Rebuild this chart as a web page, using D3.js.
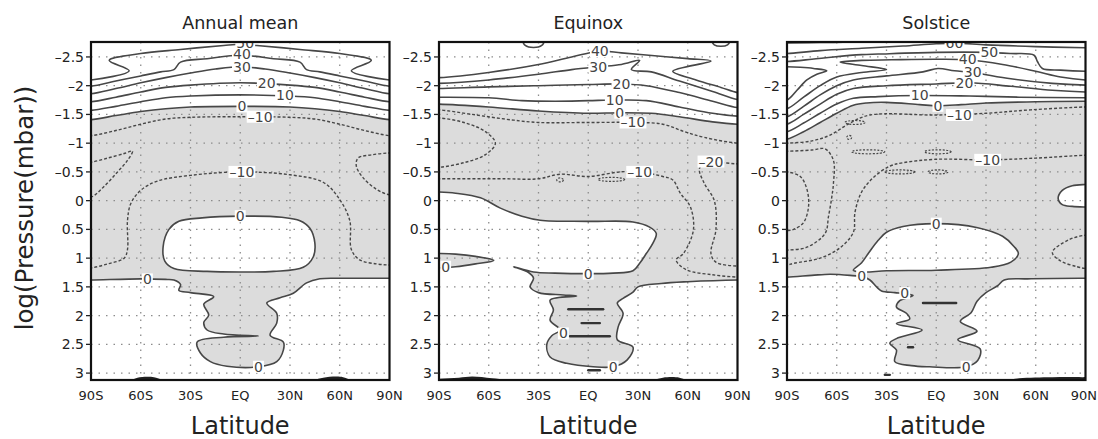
<!DOCTYPE html>
<html><head><meta charset="utf-8">
<script src="https://cdn.jsdelivr.net/npm/d3@7"></script>
<style>body{margin:0;background:#fff}svg{display:block}</style>
</head><body><svg id="c" width="1098" height="439"></svg>
<script>
// ---------- axes / categories ----------
const panelTitles = ["Annual mean", "Equinox", "Solstice"];
const xTickValues = [-90, -60, -30, 0, 30, 60, 90];
const xTickLabels = ["90S", "60S", "30S", "EQ", "30N", "60N", "90N"];
const yTickValues = [-2.5, -2, -1.5, -1, -0.5, 0, 0.5, 1, 1.5, 2, 2.5, 3];
const yTickLabels = ["–2.5", "–2", "–1.5", "–1", "–0.5", "0", "0.5", "1", "1.5", "2", "2.5", "3"];
const xAxisTitle = "Latitude";
const yAxisTitle = "log(Pressure(mbar))";

// ---------- Panel 1: Annual mean  (contours as [lat, logP]) ----------
const p1_c50 = [[-90,-2.1],[-67,-2.26],[-79,-2.44],[-60,-2.56],[-36,-2.63],[-10,-2.7],[0,-2.72],[10,-2.7],[36,-2.63],[60,-2.56],[79,-2.44],[67,-2.26],[90,-2.1]];
const p1_c40 = [[-90,-1.99],[-75,-2.08],[-60,-2.17],[-48,-2.24],[-40,-2.28],[-36,-2.41],[-20,-2.47],[0,-2.53],[20,-2.47],[36,-2.41],[40,-2.28],[48,-2.24],[60,-2.17],[75,-2.08],[90,-1.99]];
const p1_c30 = [[-90,-1.86],[-75,-1.95],[-60,-2.05],[-45,-2.14],[-30,-2.22],[-15,-2.29],[0,-2.33],[15,-2.29],[30,-2.22],[45,-2.14],[60,-2.05],[75,-1.95],[90,-1.86]];
const p1_c20 = [[-90,-1.72],[-75,-1.8],[-60,-1.89],[-45,-1.97],[-30,-2.01],[0,-2.05],[30,-2.01],[45,-1.97],[60,-1.89],[75,-1.8],[90,-1.72]];
const p1_c10 = [[-90,-1.57],[-75,-1.64],[-60,-1.72],[-45,-1.79],[-30,-1.82],[0,-1.84],[30,-1.82],[45,-1.79],[60,-1.72],[75,-1.64],[90,-1.57]];
const p1_c0u = [[-90,-1.41],[-75,-1.48],[-60,-1.55],[-45,-1.6],[-30,-1.63],[0,-1.64],[30,-1.63],[45,-1.6],[60,-1.55],[75,-1.48],[90,-1.41]];
const p1_m10u = [[-90,-1.13],[-75,-1.22],[-60,-1.33],[-45,-1.42],[-30,-1.45],[0,-1.46],[30,-1.45],[45,-1.42],[60,-1.33],[75,-1.22],[90,-1.13]];
const p1_tongueL = [[-90,-0.67],[-80,-0.74],[-70,-0.82],[-65,-0.86],[-68,-0.7],[-74,-0.5],[-82,-0.25],[-90,-0.06]];
const p1_tongueR = [[90,-0.83],[80,-0.8],[71,-0.74],[70,-0.6],[74,-0.4],[82,-0.2],[90,-0.1]];
const p1_m10l = [[-90,1.17],[-80,1.1],[-70,1.0],[-68,0.85],[-68,0.35],[-66,0.05],[-60,-0.18],[-50,-0.34],[-30,-0.44],[0,-0.5],[30,-0.45],[50,-0.32],[59,-0.06],[66,0.34],[67,0.85],[72,1.03],[82,1.1],[90,1.12]];
const p1_bubble = [[-46.5,0.8],[-43,0.5],[-37,0.36],[-23,0.3],[0,0.27],[25,0.29],[36,0.35],[42,0.48],[45,0.74],[44,0.98],[38,1.16],[20,1.23],[0,1.24],[-20,1.23],[-40,1.18],[-45.5,1.05]];
const p1_c0l = [[-90,1.38],[-60,1.36],[-45,1.37],[-40,1.38],[-36,1.46],[-37,1.56],[-30,1.6],[-16,1.67],[-22,1.8],[-19,1.99],[-22,2.12],[-20,2.25],[-10,2.32],[11,2.355],[-10,2.375],[-26,2.46],[-24,2.65],[-18,2.8],[-8,2.88],[11,2.89],[22,2.8],[26,2.6],[26,2.46],[18,2.34],[22,2.13],[22,1.96],[16,1.78],[24,1.69],[32,1.61],[40,1.43],[48,1.36],[60,1.35],[90,1.35]];
const p1_blobs = [[[-66,3.14],[-62,3.08],[-52,3.07],[-46,3.14]], [[43,3.14],[50,3.08],[62,3.07],[67,3.14]]];
const p1_labels = [[3,-2.75,"50"],[1,-2.55,"40"],[1,-2.33,"30"],[16,-2.05,"20"],[27,-1.83,"10"],[1,-1.64,"0"],[12,-1.46,"–10"],[1,-0.5,"–10"],[0,0.27,"0"],[-56,1.37,"0"],[11,2.89,"0"]];

// ---------- Panel 2: Equinox ----------
const p2_c40 = [[-90,-2.14],[-60,-2.23],[-30,-2.37],[-10,-2.5],[7,-2.6],[20,-2.57],[40,-2.52],[60,-2.47],[74,-2.43],[51,-2.25],[65,-2.1],[80,-1.97],[90,-1.88]];
const p2_c30 = [[-90,-2.04],[-60,-2.1],[-30,-2.2],[-10,-2.28],[6,-2.33],[20,-2.37],[31,-2.44],[26,-2.28],[38,-2.24],[55,-2.08],[75,-1.9],[90,-1.76]];
const p2_c20 = [[-90,-1.95],[-60,-1.98],[-30,-2.0],[0,-2.02],[20,-2.03],[35,-2.0],[55,-1.88],[75,-1.73],[90,-1.62]];
const p2_c10 = [[-90,-1.8],[-60,-1.79],[-40,-1.74],[-20,-1.73],[0,-1.74],[16,-1.75],[35,-1.74],[55,-1.63],[75,-1.52],[90,-1.47]];
const p2_c0u = [[-90,-1.68],[-60,-1.63],[-30,-1.56],[0,-1.52],[19,-1.53],[38,-1.52],[55,-1.46],[75,-1.37],[90,-1.33]];
const p2_topA = [[-40,-2.8],[-38,-2.7],[-33,-2.665],[-28,-2.7],[-26,-2.8]];
const p2_topB = [[74,-2.8],[76,-2.71],[80,-2.685],[84,-2.71],[86,-2.8]];
const p2_m10u = [[-90,-1.58],[-70,-1.5],[-45,-1.4],[-30,-1.36],[0,-1.36],[27,-1.36],[45,-1.33],[58,-1.2],[70,-1.1],[90,-1.0]];
const p2_tongueM = [[-90,-1.44],[-75,-1.36],[-62,-1.2],[-56,-1.0],[-62,-0.8],[-75,-0.66],[-90,-0.58]];
const p2_m10l = [[-90,-0.38],[-50,-0.38],[-30,-0.38],[-17,-0.46],[0,-0.42],[19,-0.5],[31,-0.5],[45,-0.42],[51,-0.36],[55.5,-0.13],[61.6,0.11],[63.4,0.51],[57.4,0.92],[53,1.03],[59,1.2],[75,1.29],[90,1.33]];
const p2_m20 = [[90,-0.64],[80,-0.66],[70,-0.66],[67,-0.55],[70,-0.3],[76,0.0],[77,0.5],[74,0.92],[77,1.07],[90,1.14]];
const p2_c0m = [[-90,-0.15],[-80,-0.13],[-65,-0.05],[-53,0.13],[-40,0.27],[-29,0.34],[0,0.36],[27,0.37],[37,0.46],[41,0.57],[39,0.74],[35,0.92],[31,1.09],[27,1.22],[15,1.26],[0,1.27],[-20,1.26],[-33,1.24],[-45,1.15],[-36,1.25],[-33,1.35],[-35,1.5],[-30,1.6],[-15,1.64],[-7,1.66],[-23,1.73],[-21,1.9],[-23,2.08],[-17,2.25],[-22,2.35],[-25,2.5],[-23,2.72],[-13,2.83],[3,2.89],[15,2.89],[23.5,2.77],[27,2.55],[17.5,2.42],[18,2.2],[21,1.96],[17.5,1.78],[21,1.7],[27,1.59],[30,1.5],[44,1.44],[60,1.41],[90,1.38]];
const p2_tongue0 = [[-90,0.92],[-80,0.93],[-68,0.97],[-57,1.04],[-68,1.1],[-80,1.15],[-90,1.17]];
const p2_slivers = [[-12,9,1.89],[-4,7,2.13],[-11,13,2.36],[0,7,2.95]];
const p2_squiggles = [[-19,-15,-0.36],[6,22,-0.37]];
const p2_blobs = [[[-97,3.14],[-90,3.1],[-78,3.08],[-70,3.06],[-58,3.09],[-45,3.14]], [[38,3.14],[45,3.08],[55,3.08],[60,3.14]]];
const p2_labels = [[7,-2.6,"40"],[6,-2.33,"30"],[20,-2.03,"20"],[16,-1.75,"10"],[19,-1.53,"0"],[27,-1.36,"–10"],[31,-0.5,"–10"],[74,-0.68,"–20"],[0,1.27,"0"],[-86,1.15,"0"],[-15,2.31,"0"],[15,2.89,"0"]];

// ---------- Panel 3: Solstice ----------
const p3_top = [[-90,-2.745],[-70,-2.75],[-50,-2.76]];
const p3_c60 = [[-90,-2.56],[-70,-2.61],[-45,-2.65],[-20,-2.69],[0,-2.73],[12,-2.74],[30,-2.71],[60,-2.68],[90,-2.66]];
const p3_c50 = [[-90,-2.42],[-75,-2.46],[-62,-2.5],[-45,-2.54],[-35,-2.55],[0,-2.58],[30,-2.58],[45,-2.56],[59,-2.53],[61,-2.42],[64,-2.3],[75,-2.27],[90,-2.25]];
const p3_cL = [[-90,-1.75],[-84,-1.92],[-78,-2.1],[-72,-2.2],[-66,-2.26],[-74,-2.3],[-82,-2.32],[-90,-2.33]];
const p3_c40 = [[-90,-1.6],[-80,-1.8],[-70,-2.0],[-60,-2.15],[-45,-2.23],[-30,-2.28],[-45,-2.35],[-58,-2.41],[-45,-2.44],[-27,-2.45],[0,-2.46],[19,-2.45],[40,-2.37],[60,-2.25],[75,-2.15],[90,-2.1]];
const p3_c30 = [[-90,-1.46],[-80,-1.64],[-70,-1.84],[-60,-2.0],[-50,-2.1],[-30,-2.17],[-8,-2.24],[1,-2.3],[11,-2.26],[22,-2.23],[45,-2.12],[70,-2.04],[90,-2.01]];
const p3_c20 = [[-90,-1.33],[-80,-1.5],[-70,-1.68],[-60,-1.85],[-50,-1.95],[-30,-2.0],[0,-2.03],[20,-2.05],[45,-1.99],[70,-1.92],[90,-1.89]];
const p3_c10 = [[-90,-1.2],[-80,-1.35],[-70,-1.52],[-60,-1.68],[-50,-1.78],[-35,-1.81],[-10,-1.83],[20,-1.82],[50,-1.8],[90,-1.79]];
const p3_c0u = [[-90,-1.07],[-80,-1.2],[-70,-1.36],[-60,-1.52],[-50,-1.66],[-42,-1.7],[-30,-1.71],[-10,-1.67],[1,-1.65],[15,-1.67],[30,-1.7],[60,-1.72],[90,-1.73]];
const p3_m10u = [[-90,-1.0],[-75,-1.04],[-64,-1.14],[-52,-1.35],[-40,-1.49],[0,-1.49],[30,-1.52],[57,-1.58],[90,-1.63]];
const p3_m10v = [[-90,-0.86],[-75,-0.88],[-67,-0.9],[-62,-0.7],[-62,-0.3],[-63,-0.06],[-65,0.28],[-67,0.57],[-78,0.81],[-90,0.86]];
const p3_m20 = [[-90,-0.5],[-82,-0.42],[-78,-0.2],[-77,0.1],[-80,0.38],[-86,0.5],[-90,0.52]];
const p3_m10b = [[90,-0.79],[60,-0.74],[31,-0.71],[0,-0.72],[-20,-0.66],[-28,-0.6],[-38,-0.4],[-45,-0.15],[-49,0.2],[-50,0.55],[-58,0.82],[-70,1.0],[-86,1.09],[-90,1.12]];
const p3_m10r = [[90,0.6],[80,0.68],[70,0.9],[75,1.05],[85,1.15],[90,1.18]];
const p3_bubble = [[-50,1.21],[-45,1.08],[-41,0.92],[-35,0.69],[-30,0.55],[-20,0.45],[0,0.4],[25,0.47],[40,0.62],[47,0.8],[49.5,0.92],[45,1.07],[33,1.16],[0,1.21],[-30,1.22],[-44,1.24]];
const p3_bubbleR = [[97,-0.28],[90,-0.28],[82,-0.26],[76,-0.18],[73.5,-0.04],[76,0.07],[82,0.1],[90,0.11],[97,0.11]];
const p3_c0l = [[-90,1.33],[-75,1.3],[-64,1.28],[-52,1.3],[-44,1.33],[-40,1.38],[-36,1.5],[-33,1.57],[-25,1.6],[-19,1.62],[-14,1.65],[-22,1.74],[-24,1.85],[-18,1.96],[-16,2.06],[-24,2.14],[-8.5,2.25],[-24,2.4],[-28,2.48],[-24,2.6],[-25,2.8],[-15,2.87],[-4,2.89],[18,2.89],[25,2.78],[26.5,2.58],[13,2.42],[24.6,2.27],[14.5,2.1],[21,1.95],[24.6,1.75],[30,1.6],[37,1.48],[41,1.38],[55,1.36],[90,1.35]];
const p3_slivers = [[-8,12,1.78],[-17,-14,2.55],[-31,-28,3.03]];
const p3_squiggles = [[-51,-31,-0.85],[-7,9,-0.85],[-31,-13,-0.5],[-5,7,-0.5],[-55,-43,-1.36],[-54,-51,-1.1]];
const p3_blobs = [[[40,3.14],[50,3.09],[70,3.07],[88,3.07],[97,3.08],[97,3.14]]];
const p3_labels = [[11,-2.75,"60"],[32,-2.58,"50"],[19,-2.46,"40"],[17,-2.04,"20"],[22,-2.24,"30"],[-10,-1.83,"10"],[1,-1.65,"0"],[14,-1.49,"–10"],[31,-0.71,"–10"],[0,0.4,"0"],[-45,1.31,"0"],[-19,1.61,"0"],[18,2.89,"0"]];

// ---------- layout ----------
const panelLeft = [91, 439, 787];
const panelW = 298.5, frameTop = 42, frameBottom = 380;
const yDomain = [-2.76, 3.12];
const FONT = "DejaVu Sans";
const GRAY = "#dcdcdc", LINE = "#474747";
const SVG_W = 1098;

const ext = pts => {
  const e = p => Math.abs(p[0]) === 90 ? [[p[0] > 0 ? 97 : -97, p[1]]] : [];
  return [...e(pts[0]), ...pts, ...e(pts[pts.length - 1])];
};
const band = (upper, lower) => ext(upper).concat(ext(lower).reverse());

const panels = [
  { grayFills: [band(p1_c0u, p1_c0l)], whiteFills: [p1_bubble],
    solid: [p1_c50, p1_c40, p1_c30, p1_c20, p1_c10, p1_c0u, p1_c0l], solidClosed: [p1_bubble],
    dashed: [p1_m10u, p1_tongueL, p1_tongueR, p1_m10l], blobs: p1_blobs, slivers: [], squiggles: [], labels: p1_labels },
  { grayFills: [band(p2_c0u, p2_c0m), ext(p2_tongue0)], whiteFills: [],
    solid: [p2_topA, p2_topB, p2_c40, p2_c30, p2_c20, p2_c10, p2_c0u, p2_c0m, p2_tongue0], solidClosed: [],
    dashed: [p2_m10u, p2_tongueM, p2_m10l, p2_m20], blobs: p2_blobs, slivers: p2_slivers, squiggles: p2_squiggles, labels: p2_labels },
  { grayFills: [band(p3_c0u, p3_c0l)], whiteFills: [p3_bubble, p3_bubbleR],
    solid: [p3_top, p3_c60, p3_c50, p3_cL, p3_c40, p3_c30, p3_c20, p3_c10, p3_c0u, p3_c0l, p3_bubbleR], solidClosed: [p3_bubble],
    dashed: [p3_m10u, p3_m10v, p3_m20, p3_m10b, p3_m10r], blobs: p3_blobs, slivers: p3_slivers, squiggles: p3_squiggles, labels: p3_labels }
];

const svg = d3.select("#c");
const y = d3.scaleLinear().domain(yDomain).range([frameTop, frameBottom]);

panels.forEach((P, i) => {
  const x0 = panelLeft[i];
  const x = d3.scaleLinear().domain([-90, 90]).range([x0, x0 + panelW]);
  const open = d3.line().x(d => x(d[0])).y(d => y(d[1])).curve(d3.curveCatmullRom.alpha(0.5));
  const closed = d3.line().x(d => x(d[0])).y(d => y(d[1])).curve(d3.curveCatmullRomClosed.alpha(0.5));

  svg.append("clipPath").attr("id", "clip" + i).append("rect")
    .attr("x", x0).attr("y", frameTop).attr("width", panelW).attr("height", frameBottom - frameTop);
  const g = svg.append("g").attr("clip-path", `url(#clip${i})`);

  P.grayFills.forEach(p => g.append("path").attr("d", closed(p)).attr("fill", GRAY));
  P.whiteFills.forEach(p => g.append("path").attr("d", closed(p)).attr("fill", "#fff"));

  // dotted grid
  const grid = g.append("g").attr("stroke", "#8c8c8c").attr("stroke-width", 1.3).attr("stroke-dasharray", "1.5,6");
  xTickValues.slice(1, -1).forEach(v => grid.append("line").attr("x1", x(v)).attr("x2", x(v)).attr("y1", frameTop).attr("y2", frameBottom));
  yTickValues.forEach(v => grid.append("line").attr("x1", x0).attr("x2", x0 + panelW).attr("y1", y(v)).attr("y2", y(v)));

  P.blobs.forEach(p => g.append("path").attr("d", closed(p)).attr("fill", "#222"));

  P.solid.forEach(p => g.append("path").attr("d", open(ext(p))).attr("fill", "none").attr("stroke", LINE).attr("stroke-width", 1.6));
  P.solidClosed.forEach(p => g.append("path").attr("d", closed(p)).attr("fill", "none").attr("stroke", LINE).attr("stroke-width", 1.6));
  P.dashed.forEach(p => g.append("path").attr("d", open(ext(p))).attr("fill", "none").attr("stroke", LINE).attr("stroke-width", 1.4).attr("stroke-dasharray", "3,2"));
  P.slivers.forEach(s => g.append("line").attr("x1", x(s[0])).attr("x2", x(s[1])).attr("y1", y(s[2])).attr("y2", y(s[2]))
    .attr("stroke", "#333").attr("stroke-width", 2.4).attr("stroke-linecap", "round"));
  P.squiggles.forEach(s => g.append("ellipse").attr("cx", (x(s[0]) + x(s[1])) / 2).attr("cy", y(s[2]))
    .attr("rx", (x(s[1]) - x(s[0])) / 2).attr("ry", 2).attr("fill", "none").attr("stroke", LINE).attr("stroke-width", 1.2).attr("stroke-dasharray", "2,1.5"));

  // contour labels with white knockout
  P.labels.forEach(([lat, lp, t]) => {
    const lg = g.append("g");
    const tx = lg.append("text").attr("x", x(lat)).attr("y", y(lp) + 5).attr("text-anchor", "middle")
      .attr("font-family", FONT).attr("font-size", 14).attr("fill", "#444").text(t);
    const bb = tx.node().getBBox();
    lg.insert("rect", "text").attr("x", bb.x - 1).attr("y", y(lp) - 6).attr("width", bb.width + 2).attr("height", 12).attr("fill", "#fff");
  });

  // frame
  svg.append("rect").attr("x", x0).attr("y", frameTop).attr("width", panelW).attr("height", frameBottom - frameTop)
    .attr("fill", "none").attr("stroke", "#111").attr("stroke-width", 2.2);

  // y axis
  yTickValues.forEach((v, k) => {
    svg.append("line").attr("x1", x0 - 5).attr("x2", x0).attr("y1", y(v)).attr("y2", y(v)).attr("stroke", "#222").attr("stroke-width", 1.3);
    svg.append("text").attr("x", x0 - 7).attr("y", y(v) + 5).attr("text-anchor", "end")
      .attr("font-family", FONT).attr("font-size", 14).attr("fill", "#222").text(yTickLabels[k]);
  });
  // x axis
  xTickValues.forEach((v, k) => {
    const t = svg.append("text").attr("x", x(v)).attr("y", 400).attr("text-anchor", "middle")
      .attr("font-family", FONT).attr("font-size", 13).attr("fill", "#222").text(xTickLabels[k]);
    const bb = t.node().getBBox();
    if (bb.x + bb.width > SVG_W - 1) t.attr("x", x(v) - (bb.x + bb.width - SVG_W + 1));
  });
  svg.append("text").attr("x", x(0)).attr("y", 434).attr("text-anchor", "middle")
    .attr("font-family", FONT).attr("font-size", 24).attr("fill", "#222").text(xAxisTitle);
  svg.append("text").attr("x", x(0)).attr("y", 29).attr("text-anchor", "middle")
    .attr("font-family", FONT).attr("font-size", 17.5).attr("fill", "#222").text(panelTitles[i]);
});

svg.append("text").attr("transform", "translate(33,208) rotate(-90)").attr("text-anchor", "middle")
  .attr("font-family", FONT).attr("font-size", 24.5).attr("fill", "#222").text(yAxisTitle);
</script></body></html>
